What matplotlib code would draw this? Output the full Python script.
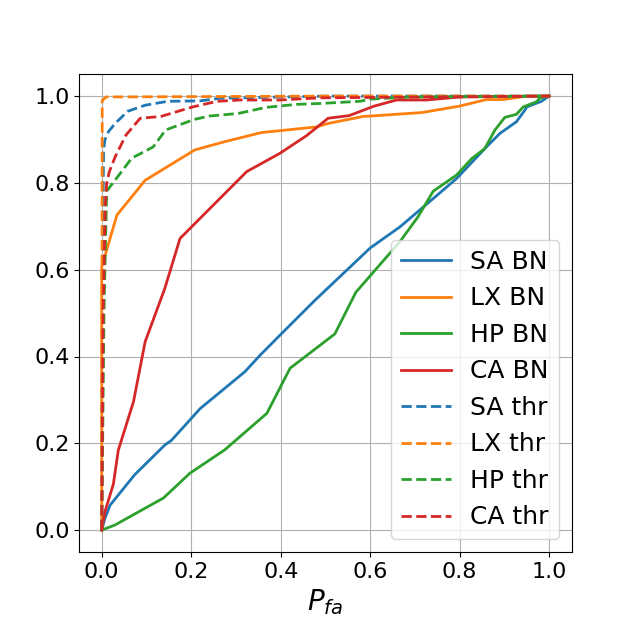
import matplotlib
matplotlib.use("Agg")
import matplotlib.pyplot as plt

# SA BN
sa_bn_x = [0, 0.007, 0.019, 0.074, 0.141, 0.156, 0.22, 0.32, 0.354, 0.406, 0.477, 0.6, 0.667, 0.741, 0.793, 0.86, 0.89, 0.927, 0.946, 0.95, 0.983, 0.994, 1.0]
sa_bn_y = [0, 0.027, 0.058, 0.128, 0.196, 0.207, 0.28, 0.365, 0.403, 0.457, 0.53, 0.65, 0.699, 0.764, 0.81, 0.883, 0.914, 0.941, 0.968, 0.975, 0.988, 0.996, 1.0]
# LX BN
lx_bn_x = [0, 0, 0.034, 0.097, 0.208, 0.275, 0.357, 0.48, 0.506, 0.584, 0.715, 0.8, 0.86, 0.897, 0.95, 1.0]
lx_bn_y = [0, 0.607, 0.726, 0.806, 0.876, 0.895, 0.916, 0.929, 0.937, 0.953, 0.962, 0.977, 0.992, 0.992, 1.0, 1.0]
# HP BN
hp_bn_x = [0, 0.03, 0.138, 0.197, 0.275, 0.369, 0.421, 0.521, 0.568, 0.666, 0.707, 0.741, 0.793, 0.827, 0.856, 0.879, 0.901, 0.927, 0.942, 0.972, 0.979, 1.0]
hp_bn_y = [0, 0.012, 0.074, 0.131, 0.185, 0.269, 0.373, 0.452, 0.548, 0.664, 0.722, 0.781, 0.818, 0.856, 0.879, 0.922, 0.951, 0.958, 0.975, 0.987, 0.995, 1.0]
# CA BN
ca_bn_x = [0, 0.007, 0.026, 0.037, 0.071, 0.097, 0.141, 0.175, 0.324, 0.398, 0.458, 0.506, 0.553, 0.609, 0.659, 0.726, 0.8, 1.0]
ca_bn_y = [0, 0.042, 0.106, 0.184, 0.296, 0.434, 0.557, 0.672, 0.826, 0.868, 0.909, 0.949, 0.955, 0.977, 0.991, 0.991, 0.998, 1.0]
# SA thr
sa_thr_x = [0, 0.002, 0.004, 0.007, 0.015, 0.03, 0.058, 0.097, 0.147, 0.22, 0.264, 0.5, 1.0]
sa_thr_y = [0, 0.6, 0.875, 0.899, 0.918, 0.937, 0.965, 0.979, 0.988, 0.989, 0.995, 1.0, 1.0]
# LX thr
lx_thr_x = [0, 0.001, 0.01, 0.5, 1.0]
lx_thr_y = [0, 0.99, 0.998, 1.0, 1.0]
# HP thr
hp_thr_x = [0, 0.005, 0.011, 0.034, 0.067, 0.115, 0.143, 0.206, 0.24, 0.305, 0.367, 0.436, 0.488, 0.577, 0.6, 0.689, 1.0]
hp_thr_y = [0, 0.5, 0.781, 0.812, 0.857, 0.883, 0.922, 0.946, 0.954, 0.96, 0.974, 0.981, 0.983, 0.988, 0.993, 0.998, 1.0]
# CA thr
ca_thr_x = [0, 0.003, 0.008, 0.011, 0.017, 0.03, 0.054, 0.086, 0.132, 0.203, 0.258, 0.309, 0.398, 0.488, 1.0]
ca_thr_y = [0, 0.5, 0.75, 0.799, 0.826, 0.86, 0.91, 0.949, 0.953, 0.975, 0.988, 0.991, 0.991, 0.996, 1.0]

fig = plt.figure(figsize=(6.35, 6.2), dpi=100)
ax = fig.add_subplot(111)

ax.plot(sa_bn_x, sa_bn_y, color="C0", lw=2, label="SA BN")
ax.plot(lx_bn_x, lx_bn_y, color="C1", lw=2, label="LX BN")
ax.plot(hp_bn_x, hp_bn_y, color="C2", lw=2, label="HP BN")
ax.plot(ca_bn_x, ca_bn_y, color="C3", lw=2, label="CA BN")
ax.plot(sa_thr_x, sa_thr_y, color="C0", lw=2, ls="--", label="SA thr")
ax.plot(lx_thr_x, lx_thr_y, color="C1", lw=2, ls="--", label="LX thr")
ax.plot(hp_thr_x, hp_thr_y, color="C2", lw=2, ls="--", label="HP thr")
ax.plot(ca_thr_x, ca_thr_y, color="C3", lw=2, ls="--", label="CA thr")

ax.set_xticks([0, 0.2, 0.4, 0.6, 0.8, 1.0])
ax.set_yticks([0, 0.2, 0.4, 0.6, 0.8, 1.0])
ax.tick_params(labelsize=16)
ax.set_xlabel("$P_{fa}$", fontsize=20)
ax.grid(True)
ax.legend(loc="lower right", fontsize=18)

fig.savefig("out.png", dpi=100)
